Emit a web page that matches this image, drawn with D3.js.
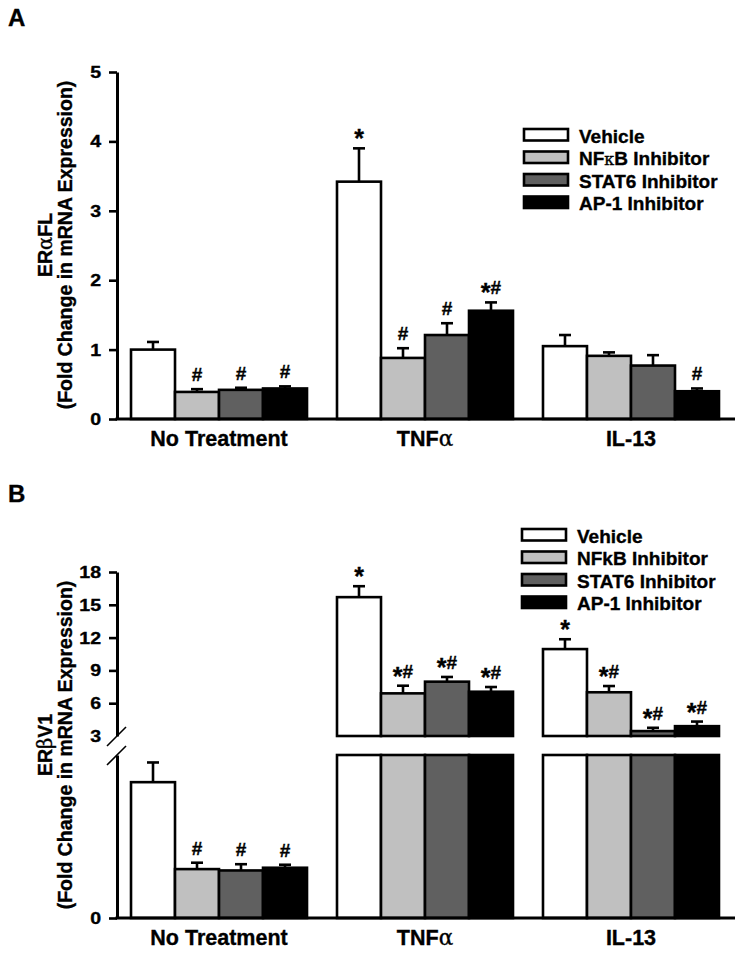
<!DOCTYPE html>
<html>
<head>
<meta charset="utf-8">
<script src="https://cdn.jsdelivr.net/npm/d3@7"></script>
<style>
  html, body { margin: 0; padding: 0; background: #fff; }
  svg { display: block; font-family: "Liberation Sans", Arial, sans-serif; font-weight: bold; }
  svg text { stroke: #000; stroke-width: 0.35px; }
</style>
</head>
<body>
<svg id="chart" width="745" height="957"></svg>
<script>
// ---------- data ----------
const categories = ["No Treatment", "TNFα", "IL-13"];
const seriesNames = ["Vehicle", "NFκB Inhibitor", "STAT6 Inhibitor", "AP-1 Inhibitor"];
const legendA = ["Vehicle", "NFκB Inhibitor", "STAT6 Inhibitor", "AP-1 Inhibitor"];
const legendB = ["Vehicle", "NFkB Inhibitor", "STAT6 Inhibitor", "AP-1 Inhibitor"];
const fills = ["#ffffff", "#c0c0c0", "#606060", "#000000"];

// Panel A: ERαFL
const vehicleA = [1.00, 3.42, 1.05];
const nfkbA    = [0.39, 0.88, 0.91];
const stat6A   = [0.42, 1.21, 0.77];
const ap1A     = [0.44, 1.56, 0.40];
const vehicleErrA = [0.11, 0.48, 0.16];
const nfkbErrA    = [0.04, 0.14, 0.05];
const stat6ErrA   = [0.03, 0.17, 0.15];
const ap1ErrA     = [0.03, 0.12, 0.04];
const vehicleMarkA = ["", "*", ""];
const nfkbMarkA    = ["#", "#", ""];
const stat6MarkA   = ["#", "#", ""];
const ap1MarkA     = ["#", "*#", "#"];
const ticksA = [0, 1, 2, 3, 4, 5];

// Panel B: ERβV1 (broken axis)
const vehicleB = [1.00, 15.70, 10.95];
const nfkbB    = [0.36, 6.90, 7.00];
const stat6B   = [0.35, 7.97, 3.45];
const ap1B     = [0.37, 7.05, 3.90];
const vehicleErrB = [0.145, 1.00, 0.90];
const nfkbErrB    = [0.047, 0.70, 0.57];
const stat6ErrB   = [0.046, 0.43, 0.30];
const ap1ErrB     = [0.022, 0.43, 0.42];
const vehicleMarkB = ["", "*", "*"];
const nfkbMarkB    = ["#", "*#", "*#"];
const stat6MarkB   = ["#", "*#", "*#"];
const ap1MarkB     = ["#", "*#", "*#"];
const ticksBUpper = [3, 6, 9, 12, 15, 18];
const ticksBLower = [0];
const lowerMaxB = 1.2;

// ---------- build ----------
const valsA = [vehicleA, nfkbA, stat6A, ap1A];
const errsA = [vehicleErrA, nfkbErrA, stat6ErrA, ap1ErrA];
const marksA = [vehicleMarkA, nfkbMarkA, stat6MarkA, ap1MarkA];
const valsB = [vehicleB, nfkbB, stat6B, ap1B];
const errsB = [vehicleErrB, nfkbErrB, stat6ErrB, ap1ErrB];
const marksB = [vehicleMarkB, nfkbMarkB, stat6MarkB, ap1MarkB];

function rows(vals, errs, marks) {
  const out = [];
  categories.forEach((c, ci) => seriesNames.forEach((s, si) => {
    out.push({cat: c, ser: s, si, v: vals[si][ci], e: errs[si][ci], m: marks[si][ci]});
  }));
  return out;
}

const svg = d3.select("#chart");
const axisX0 = 117, axisX1 = 735;

const x = d3.scaleBand().domain(categories).range([117, 733]).paddingInner(0.1456).paddingOuter(0.068);
const xs = d3.scaleBand().domain(seriesNames).range([0, x.bandwidth()]);

const BAR_STROKE = 2.6;
const TICK = 8, PAD = 8, STRETCH = 1.15;

function styleAxis(g) {
  g.select(".domain").attr("stroke", "#000").attr("stroke-width", 3);
  g.selectAll(".tick line").attr("stroke", "#000").attr("stroke-width", 2.6);
  g.selectAll(".tick text").attr("font-size", 17).attr("font-weight", "bold")
    .attr("font-family", '"Liberation Sans", Arial, sans-serif').attr("fill", "#000")
    .attr("x", -(TICK + PAD) / STRETCH).attr("transform", `scale(${STRETCH},1)`);
}

function drawMark(g, cx, yTop, m) {
  if (!m) return;
  const t = g.append("text").attr("x", cx).attr("y", yTop - 8).attr("text-anchor", "middle").attr("fill", "#000");
  for (const ch of m) {
    if (ch === "*") t.append("tspan").attr("font-size", 25).attr("dy", 7).text("*");
    else {
      const prevStar = t.selectAll("tspan").size() > 0;
      t.append("tspan").attr("font-size", 19).attr("dy", prevStar ? -7 : 0).text("#");
    }
  }
}

function drawErr(g, cx, y0, y1) {
  g.append("line").attr("x1", cx).attr("x2", cx).attr("y1", y0).attr("y2", y1)
    .attr("stroke", "#000").attr("stroke-width", 2.6);
  g.append("line").attr("x1", cx - 6).attr("x2", cx + 6).attr("y1", y1).attr("y2", y1)
    .attr("stroke", "#000").attr("stroke-width", 2.6);
}

function drawLegend(g, labels, x0, y0) {
  labels.forEach((lab, i) => {
    const y = y0 + i * 22.5;
    g.append("rect").attr("x", x0).attr("y", y).attr("width", 44).attr("height", 11.5)
      .attr("fill", fills[i]).attr("stroke", "#000").attr("stroke-width", 2.6);
    const t = g.append("text").attr("x", x0 + 55).attr("y", y + 13.5).attr("font-size", 19).attr("fill", "#000");
    if (lab.includes("κ")) {
      const parts = lab.split("κ");
      t.append("tspan").text(parts[0]);
      t.append("tspan").attr("font-weight", "normal").attr("font-family", '"DejaVu Serif", serif').attr("font-size", 16).text("κ");
      t.append("tspan").text(parts[1]);
    } else t.text(lab);
  });
}

function greekText(t, str, greekChar) {
  const idx = str.indexOf(greekChar);
  if (idx < 0) { t.text(str); return; }
  t.append("tspan").text(str.slice(0, idx));
  t.append("tspan").attr("font-weight", "normal").attr("font-family", '"DejaVu Serif", serif').text(greekChar);
  t.append("tspan").text(str.slice(idx + 1));
}

function xLabels(g, yBase) {
  categories.forEach(c => {
    const t = g.append("text").attr("x", x(c) + x.bandwidth() / 2).attr("y", yBase)
      .attr("text-anchor", "middle").attr("font-size", 21.5).attr("fill", "#000");
    greekText(t, c, "α");
  });
}

function yTitle(g, line1, greek, cy) {
  const t1 = g.append("text").attr("transform", `translate(52,${cy}) rotate(-90)`)
    .attr("text-anchor", "middle").attr("font-size", 19.5).attr("fill", "#000");
  greekText(t1, line1, greek);
  g.append("text").attr("transform", `translate(72,${cy}) rotate(-90)`)
    .attr("text-anchor", "middle").attr("font-size", 19.5).attr("fill", "#000")
    .text("(Fold Change in mRNA Expression)");
}

// ---------- Panel A ----------
{
  const g = svg.append("g");
  const y = d3.scaleLinear().domain([0, 5]).range([419, 72]);
  g.append("text").attr("x", 8).attr("y", 26).attr("font-size", 24).text("A");

  const data = rows(valsA, errsA, marksA);
  const bars = g.append("g");
  data.forEach(d => {
    const bx = x(d.cat) + xs(d.ser);
    const cx = bx + xs.bandwidth() / 2;
    drawErr(bars, cx, y(d.v), y(d.v + d.e));
    bars.append("rect").attr("x", bx).attr("y", y(d.v)).attr("width", xs.bandwidth())
      .attr("height", y(0) - y(d.v)).attr("fill", fills[d.si]).attr("stroke", "#000").attr("stroke-width", BAR_STROKE);
    drawMark(bars, cx, y(d.v + d.e), d.m);
  });

  const ax = g.append("g").attr("transform", `translate(${axisX0},0)`)
    .call(d3.axisLeft(y).tickValues(ticksA).tickFormat(d3.format("d")).tickSize(TICK).tickSizeOuter(0).tickPadding(PAD));
  styleAxis(ax);
  g.append("line").attr("x1", axisX0 - 1.5).attr("x2", axisX1).attr("y1", y(0)).attr("y2", y(0))
    .attr("stroke", "#000").attr("stroke-width", 3);

  xLabels(g, 446);
  yTitle(g, "ERαFL", "α", 245);
  drawLegend(g, legendA, 524, 129);
}

// ---------- Panel B ----------
{
  const g = svg.append("g");
  const yU = d3.scaleLinear().domain([3, 18]).range([736, 572]);
  const yL = d3.scaleLinear().domain([0, lowerMaxB]).range([918, 755]);
  g.append("text").attr("x", 8).attr("y", 502).attr("font-size", 24).text("B");

  const data = rows(valsB, errsB, marksB);
  const bars = g.append("g");
  data.forEach(d => {
    const bx = x(d.cat) + xs(d.ser);
    const cx = bx + xs.bandwidth() / 2;
    const top = d.v + d.e;
    const inUpper = d.v > 3;
    const yv = inUpper ? yU(d.v) : yL(d.v);
    const ye = inUpper ? yU(top) : yL(top);
    drawErr(bars, cx, yv, ye);
    const lv = Math.min(d.v, lowerMaxB);
    bars.append("rect").attr("x", bx).attr("y", yL(lv)).attr("width", xs.bandwidth())
      .attr("height", yL(0) - yL(lv)).attr("fill", fills[d.si]).attr("stroke", "#000").attr("stroke-width", BAR_STROKE);
    if (inUpper) {
      bars.append("rect").attr("x", bx).attr("y", yU(d.v)).attr("width", xs.bandwidth())
        .attr("height", yU(3) - yU(d.v)).attr("fill", fills[d.si]).attr("stroke", "#000").attr("stroke-width", BAR_STROKE);
    }
    drawMark(bars, cx, ye, d.m);
  });

  const axU = g.append("g").attr("transform", `translate(${axisX0},0)`)
    .call(d3.axisLeft(yU).tickValues(ticksBUpper).tickFormat(d3.format("d")).tickSize(TICK).tickSizeOuter(0).tickPadding(PAD));
  styleAxis(axU);
  axU.selectAll(".tick").filter(d => d === 3).select("line").remove();
  const axL = g.append("g").attr("transform", `translate(${axisX0},0)`)
    .call(d3.axisLeft(yL).tickValues(ticksBLower).tickFormat(d3.format("d")).tickSize(TICK).tickSizeOuter(0).tickPadding(PAD));
  styleAxis(axL);
  g.append("line").attr("x1", axisX0 - 1.5).attr("x2", axisX1).attr("y1", yL(0)).attr("y2", yL(0))
    .attr("stroke", "#000").attr("stroke-width", 3);

  [yU(3), yL(lowerMaxB)].forEach(yy => {
    g.append("line").attr("x1", axisX0 - 10).attr("y1", yy + 10).attr("x2", axisX0 + 9).attr("y2", yy - 9)
      .attr("stroke", "#000").attr("stroke-width", 1.6);
  });

  xLabels(g, 945);
  yTitle(g, "ERβV1", "β", 745);
  drawLegend(g, legendB, 522, 529);
}
</script>
</body>
</html>
